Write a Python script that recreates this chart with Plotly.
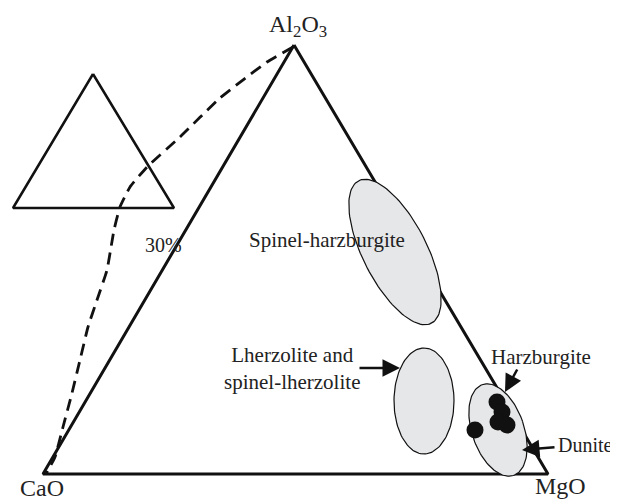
import numpy as np
import plotly.graph_objects as go

# main ternary frame: Al2O3 (top), CaO (left), MgO (right)
tri_x = [294, 43, 548, 294]
tri_y = [45, 474, 474, 45]

# small index triangle on the left
small_tri_x = [93, 13, 174, 93]
small_tri_y = [74, 208, 208, 74]

# dashed projection curve
dash_x = [293, 267, 220, 180, 147, 130, 120, 114, 107, 97, 88, 80, 72, 63, 55, 46]
dash_y = [47, 62, 98, 137, 167, 187, 207, 230, 270, 300, 327, 360, 393, 427, 457, 474]

# fields (centre, semi axes, tilt from vertical in degrees)
field_names = ['Spinel-harzburgite', 'Lherzolite and spinel-lherzolite', 'Harzburgite-dunite']
field_cx = [395, 424, 498]
field_cy = [252, 401, 430]
field_a = [80, 53, 48]
field_b = [32, 30, 26]
field_tilt = [27, 0, 19]

# samples
sample_x = [497, 502, 498, 507, 475]
sample_y = [402, 412, 422, 425, 430]

FONT = 'Liberation Serif'

fig = go.Figure()

fig.add_trace(go.Scatter(x=tri_x, y=tri_y, mode='lines',
                         line=dict(color='#111', width=3), hoverinfo='skip'))
fig.add_trace(go.Scatter(x=small_tri_x, y=small_tri_y, mode='lines',
                         line=dict(color='#111', width=2.5), hoverinfo='skip'))
fig.add_trace(go.Scatter(x=dash_x, y=dash_y, mode='lines',
                         line=dict(color='#111', width=2.8, dash='12px,7px',
                                   shape='spline', smoothing=0.4),
                         hoverinfo='skip'))

t = np.linspace(0, 2 * np.pi, 120)
for name, cx, cy, a, b, tilt in zip(field_names, field_cx, field_cy, field_a, field_b, field_tilt):
    th = np.radians(tilt)
    u = b * np.cos(t)
    v = a * np.sin(t)
    ex = cx + u * np.cos(th) + v * np.sin(th)
    ey = cy - u * np.sin(th) + v * np.cos(th)
    fig.add_trace(go.Scatter(x=ex, y=ey, mode='lines', fill='toself', name=name,
                             fillcolor='#e6e7e8', line=dict(color='#111', width=1.2),
                             hoverinfo='skip'))

fig.add_trace(go.Scatter(x=sample_x, y=sample_y, mode='markers',
                         marker=dict(color='#111', size=17), hoverinfo='skip'))

labels = [
    ('Al<sub>2</sub>O<sub>3</sub>', 298, 26, 24),
    ('CaO', 42, 488, 24),
    ('MgO', 560, 486, 24),
    ('30%', 163, 245, 20),
    ('Spinel-harzburgite', 327, 240, 21),
    ('Lherzolite and<br>spinel-lherzolite', 292, 368, 21),
    ('Harzburgite', 541, 357, 21),
    ('Dunite', 585, 445, 20),
]
for txt, x, y, size in labels:
    fig.add_annotation(x=x, y=y, text=txt, showarrow=False,
                       font=dict(family=FONT, size=size, color='#222'))

arrows = [
    (400, 368, 358, 368),
    (505, 392, 518, 368),
    (522, 450, 556, 447),
]
for x, y, ax, ay in arrows:
    fig.add_annotation(x=x, y=y, ax=ax, ay=ay, xref='x', yref='y', axref='x', ayref='y',
                       text='', showarrow=True, arrowhead=2, arrowsize=1.4,
                       arrowwidth=2.5, arrowcolor='#111')

# the page body adds an 8px offset, so the figure is trimmed and the ranges shifted
# to keep screen pixels = data units
fig.update_layout(width=610, height=492, margin=dict(l=0, r=0, t=0, b=0),
                  showlegend=False, plot_bgcolor='white', paper_bgcolor='white',
                  xaxis=dict(range=[8, 618], visible=False),
                  yaxis=dict(range=[500, 8], visible=False))

fig.write_html("out.html")
